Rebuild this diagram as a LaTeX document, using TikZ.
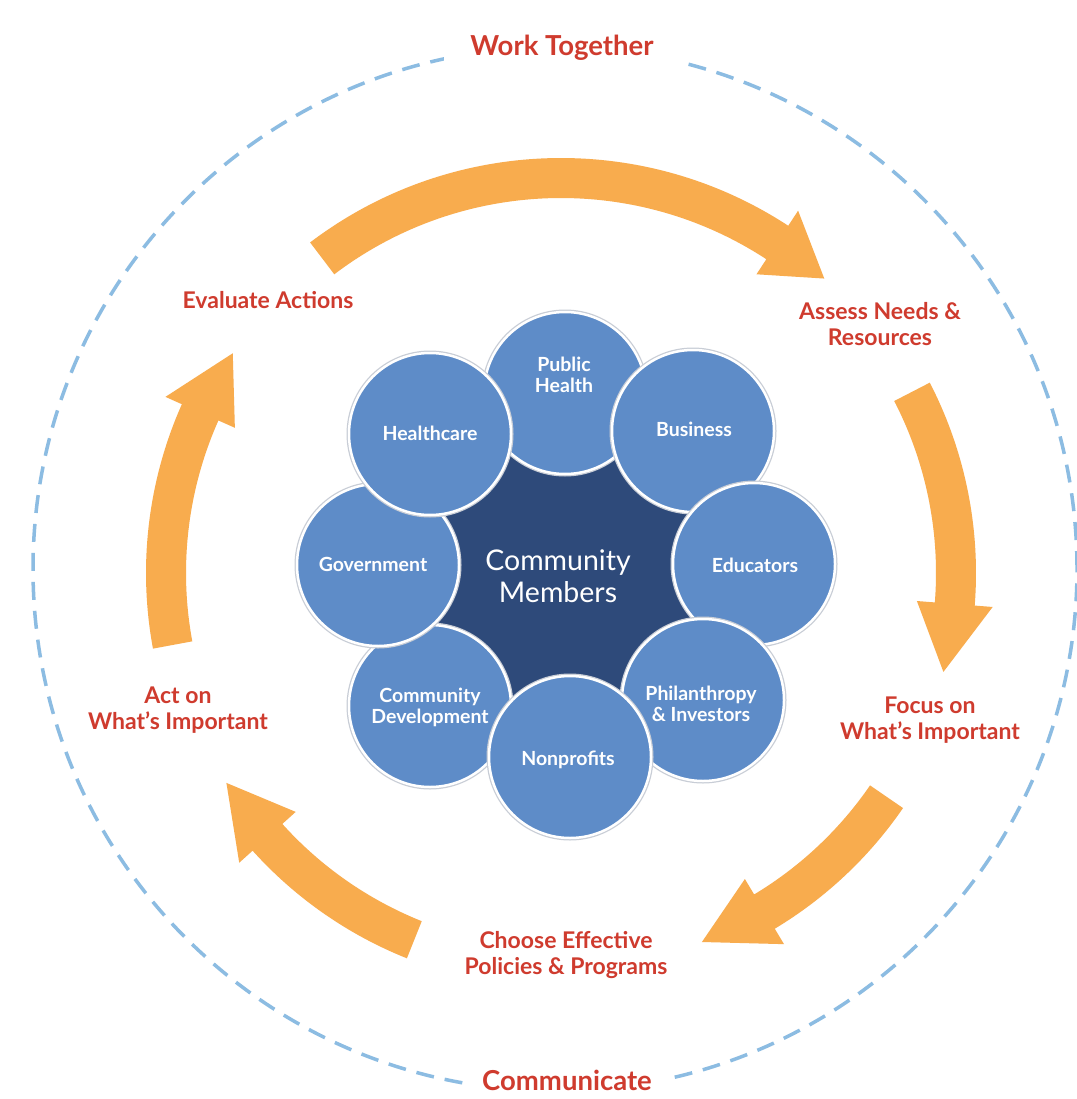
\documentclass[tikz,border=0pt]{standalone}
\usepackage{fontspec}
\setmainfont{Lato}
\definecolor{redtxt}{RGB}{207,59,46}
\definecolor{orng}{RGB}{248,172,78}
\definecolor{cblue}{RGB}{94,140,200}
\definecolor{hubblue}{RGB}{46,74,122}
\definecolor{dashblue}{RGB}{140,188,226}
\definecolor{rimgray}{RGB}{200,205,214}
\newcommand\cycarrow[3]{%
  \fill[arrowfill] (#1:415pt) arc[start angle=#1,end angle=#2,radius=415pt]
    -- (#2:433pt) -- (#3:395pt) -- (#2:357pt) -- (#2:375pt)
    arc[start angle=#2,end angle=#1,radius=375pt] -- cycle;}
\newcommand\memberdisk[3]{%
  \fill[rimgray] (#2,#3) circle[radius=83.5pt];
  \node[member] (#1) at (#2,#3) {};}
\begin{document}
\begin{tikzpicture}[x=1pt,y=1pt,
  redlabel/.style={text=redtxt,font=\bfseries\fontsize{23}{26}\selectfont,align=center,inner sep=0pt},
  biglabel/.style={text=redtxt,font=\bfseries\fontsize{27.5}{30}\selectfont,fill=white,inner ysep=6pt},
  member/.style={circle,fill=cblue,draw=white,line width=2.5pt,minimum size=162pt,inner sep=0pt},
  memtext/.style={text=white,font=\bfseries\fontsize{19.5}{21}\selectfont,align=center,inner sep=0pt},
  hubtext/.style={text=white,font=\fontsize{28.5}{32}\selectfont,align=center,inner sep=0pt},
  arrowfill/.style={fill=orng},
  dashcirc/.style={draw=dashblue,line width=3.5pt,dash pattern=on 18pt off 11pt}]
\useasboundingbox (0,0) rectangle (1076,-1099);
\fill[white] (0,0) rectangle (1076,-1099);

% outer dashed circle
\draw[dashcirc] (555,-569) circle[radius=522pt];
\node[biglabel,inner xsep=26pt] (work) at (562,-48) {Work Together};
\node[biglabel,inner xsep=18pt] (comm) at (567,-1080) {Communicate};

% cycle arrows
\begin{scope}[shift={(561,-573)}]
  \cycarrow{127.2}{56.8}{48.2}
  \cycarrow{27.3}{-4.5}{-14.5}
  \cycarrow{-34.5}{-59}{-69.1}
  \cycarrow{248.2}{222}{212.1}
  \cycarrow{190.5}{156}{146.2}
\end{scope}

% cycle labels
\node[redlabel] (eval) at (268,-300) {Evaluate Actions};
\node[redlabel] (assess) at (880,-324) {Assess Needs \&\\Resources};
\node[redlabel] (focus) at (930,-720) {Focus on\\What’s Important};
\node[redlabel] (choose) at (566,-955) {Choose Effective\\Policies \& Programs};
\node[redlabel] (act) at (178,-710) {Act on\\What’s Important};

% hub
\fill[hubblue] (565,-569) circle[radius=175pt];

% member circles (stacking order as in the reference)
\memberdisk{ph}{565}{-393}
\memberdisk{cd}{430}{-706}
\memberdisk{gov}{378}{-565}
\memberdisk{hc}{430}{-434}
\memberdisk{bus}{693}{-431}
\memberdisk{edu}{754}{-564}
\memberdisk{phil}{703}{-700}
\memberdisk{np}{570}{-757}

\node[hubtext] (hubt) at (558,-576) {Community\\Members};
\node[memtext] (tph) at (564,-375) {Public\\Health};
\node[memtext] (tbus) at (694,-429) {Business};
\node[memtext] (tedu) at (755,-565) {Educators};
\node[memtext] (tphil) at (701,-704) {Philanthropy\\\& Investors};
\node[memtext] (tnp) at (568,-760) {Nonprofits};
\node[memtext] (tcd) at (430,-707) {Community\\Development};
\node[memtext] (tgov) at (373,-564) {Government};
\node[memtext] (thc) at (430,-433) {Healthcare};
\end{tikzpicture}
\end{document}
